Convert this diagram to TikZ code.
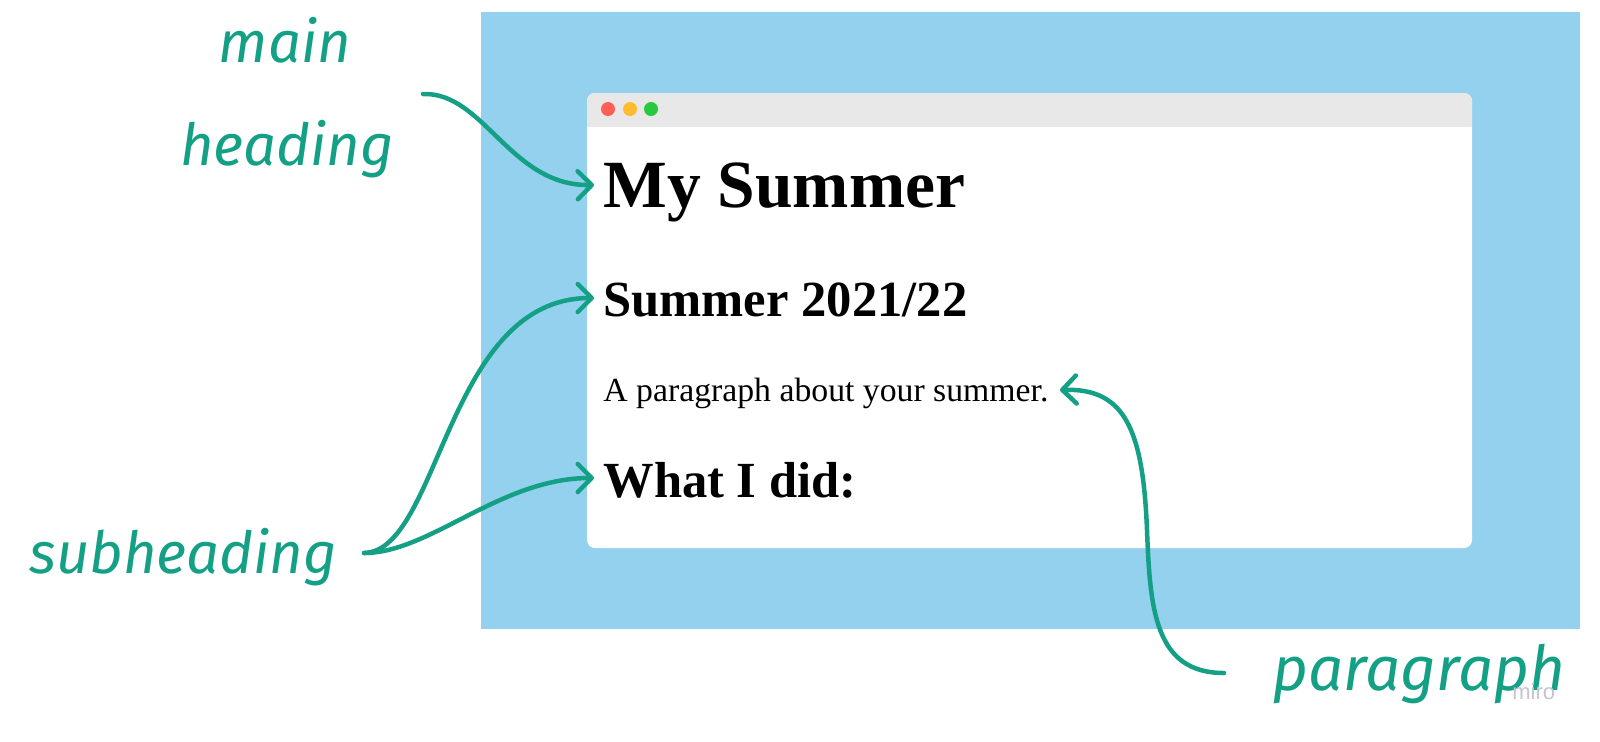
\documentclass[tikz,border=0pt]{standalone}
\usepackage{fontspec}
\setmainfont{Liberation Serif}
\newfontfamily\handfont{Fira Sans}
\newfontfamily\mirofont{Liberation Sans}
\usetikzlibrary{arrows.meta}
\definecolor{teal1}{HTML}{14A085}
\definecolor{skyblue}{HTML}{93D1EE}
\definecolor{barcol}{HTML}{E8E8E8}
\definecolor{dotred}{HTML}{FF5F57}
\definecolor{dotyel}{HTML}{FEBC2E}
\definecolor{dotgrn}{HTML}{28C840}
\definecolor{mirogray}{HTML}{C4C4CE}
\tikzset{
  hand/.style={font=\handfont\itshape\fontsize{29pt}{32pt}\selectfont, text=teal1, inner sep=0pt},
  hone/.style={font=\bfseries\fontsize{33.75pt}{38pt}\selectfont, anchor=base west, inner sep=0pt},
  htwo/.style={font=\bfseries\fontsize{25.3pt}{29pt}\selectfont, anchor=base west, inner sep=0pt},
  para/.style={font=\fontsize{16.87pt}{20pt}\selectfont, anchor=base west, inner sep=0pt},
  pointer/.style={draw=teal1, line width=2.25pt, line cap=round,
    -{Straight Barb[length=7pt,width=14pt,line cap=round,line join=round]}},
}
\begin{document}
\begin{tikzpicture}[x=0.5pt,y=-0.5pt]
\useasboundingbox (0,0) rectangle (1600,741);
% backdrop
\fill[skyblue] (481,12) rectangle (1580,629);
% window
\fill[white, rounded corners=4pt] (587,93) rectangle (1472,548);
\begin{scope}
  \clip[rounded corners=4pt] (587,93) rectangle (1472,548);
  \fill[barcol] (587,93) rectangle (1472,127);
\end{scope}
\fill[dotred] (608,109) circle (7);
\fill[dotyel] (630,109) circle (7);
\fill[dotgrn] (651,109) circle (7);
% page texts
\node[hone] (h1) at (603,207) {My Summer};
\node[htwo] (h2) at (603,316) {Summer 2021/22};
\node[para] (p) at (603,401) {A paragraph about your summer.};
\node[htwo] (h3) at (603,497) {What I did:};
% labels
\node[hand, anchor=base] (lmain) at (285,62) {main};
\node[hand, anchor=base] (lhead) at (287,165) {heading};
\node[hand, anchor=base west] (lsub) at (29,573) {subheading};
\node[hand, anchor=base west, font=\handfont\itshape\fontsize{31pt}{34pt}\selectfont] (lpara) at (1272,690) {paragraph};
\node[font=\mirofont\fontsize{11pt}{12pt}\selectfont, text=mirogray, anchor=base west, inner sep=0pt] (miro) at (1512,699) {miro};
% connector ends
\coordinate (smain) at (423,94);
\coordinate (ssub) at (364,553);
\coordinate (spara) at (1224,673);
\coordinate (tone) at (594,185);
\coordinate (ttwo) at (594,298);
\coordinate (tthree) at (594,478);
\coordinate (tpara) at (1060,390);
% connectors
\draw[pointer] (smain) .. controls (484,92) and (510,186) .. (tone);
\draw[pointer] (ssub) .. controls (440,551) and (446,298) .. (ttwo);
\draw[pointer] (ssub) .. controls (430,553) and (500,478) .. (tthree);
\draw[pointer] (spara) .. controls (1155,673) and (1150,610) .. (1147,530)
  .. controls (1143,430) and (1125,388) .. (tpara);
\end{tikzpicture}
\end{document}
